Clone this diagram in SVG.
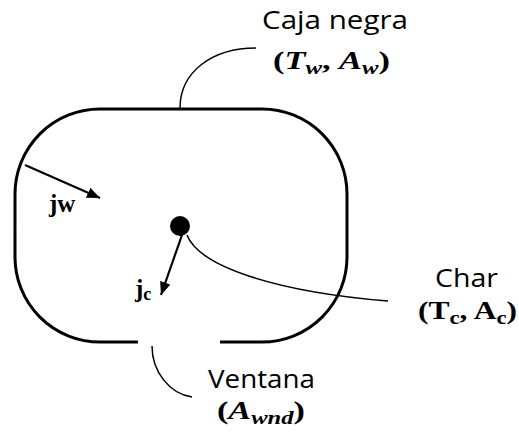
<svg xmlns="http://www.w3.org/2000/svg" width="519" height="436" viewBox="0 0 519 436">
<style>
.box{fill:none;stroke:#000;stroke-width:3;stroke-linecap:butt}
.lead{fill:none;stroke:#000;stroke-width:1.5}
.arr{fill:none;stroke:#000;stroke-width:2.2}
.lbl{font-family:"Open Sans","Noto Sans",sans-serif;font-size:26px;fill:#000}
.math{font-family:"Liberation Serif","DejaVu Serif",serif;font-size:25px;font-weight:bold;fill:#000}
.it{font-style:italic}
.sub{font-size:18px}
</style>
<defs>
<marker id="ah" markerUnits="userSpaceOnUse" markerWidth="14" markerHeight="12" refX="13" refY="5.5" orient="auto">
<path d="M0,0 L13,5.5 L0,11 Z" fill="#000"/>
</marker>
</defs>
<rect width="519" height="436" fill="#fff"/>
<g id="caja-negra">
<path class="box" d="M138,342 H100 A85,85 0 0 1 15,257 V194 A85,85 0 0 1 100,109 H262 A85,85 0 0 1 347,194 V257 A85,85 0 0 1 262,342 H220"/>
<text class="lbl" x="262" y="29" textLength="146" lengthAdjust="spacingAndGlyphs">Caja negra</text>
<text class="math" x="273" y="69" textLength="117" lengthAdjust="spacingAndGlyphs">(<tspan class="it">T</tspan><tspan class="it sub" dy="5">w</tspan><tspan dy="-5">, </tspan><tspan class="it">A</tspan><tspan class="it sub" dy="5">w</tspan><tspan dy="-5">)</tspan></text>
</g>
<g id="char">
<circle cx="180" cy="226" r="10" fill="#000"/>
<text class="lbl" x="435" y="287" textLength="63" lengthAdjust="spacingAndGlyphs">Char</text>
<text class="math" x="418" y="319" textLength="99" lengthAdjust="spacingAndGlyphs">(T<tspan class="sub" dy="5">c</tspan><tspan dy="-5">, A</tspan><tspan class="sub" dy="5">c</tspan><tspan dy="-5">)</tspan></text>
</g>
<g id="ventana">
<text class="lbl" x="208" y="388" textLength="107" lengthAdjust="spacingAndGlyphs">Ventana</text>
<text class="math" x="217" y="419" textLength="88" lengthAdjust="spacingAndGlyphs">(<tspan class="it">A</tspan><tspan class="it sub" dy="5">wnd</tspan><tspan dy="-5">)</tspan></text>
</g>
<g id="connectors">
<path class="lead" d="M180,108 C180,72 212,48 256,48"/>
<path class="lead" d="M187,235 C200,268 280,292 388,301"/>
<path class="lead" d="M152,346 C152,372 170,394 192,397"/>
<path class="arr" d="M25,165 L100,198" marker-end="url(#ah)"/>
<path class="arr" d="M182,235 L161,295" marker-end="url(#ah)"/>
<text class="math" x="49" y="212" font-size="27">jw</text>
<text class="math" x="135" y="297" font-size="27">j<tspan class="sub" dy="3">c</tspan></text>
</g>
</svg>
